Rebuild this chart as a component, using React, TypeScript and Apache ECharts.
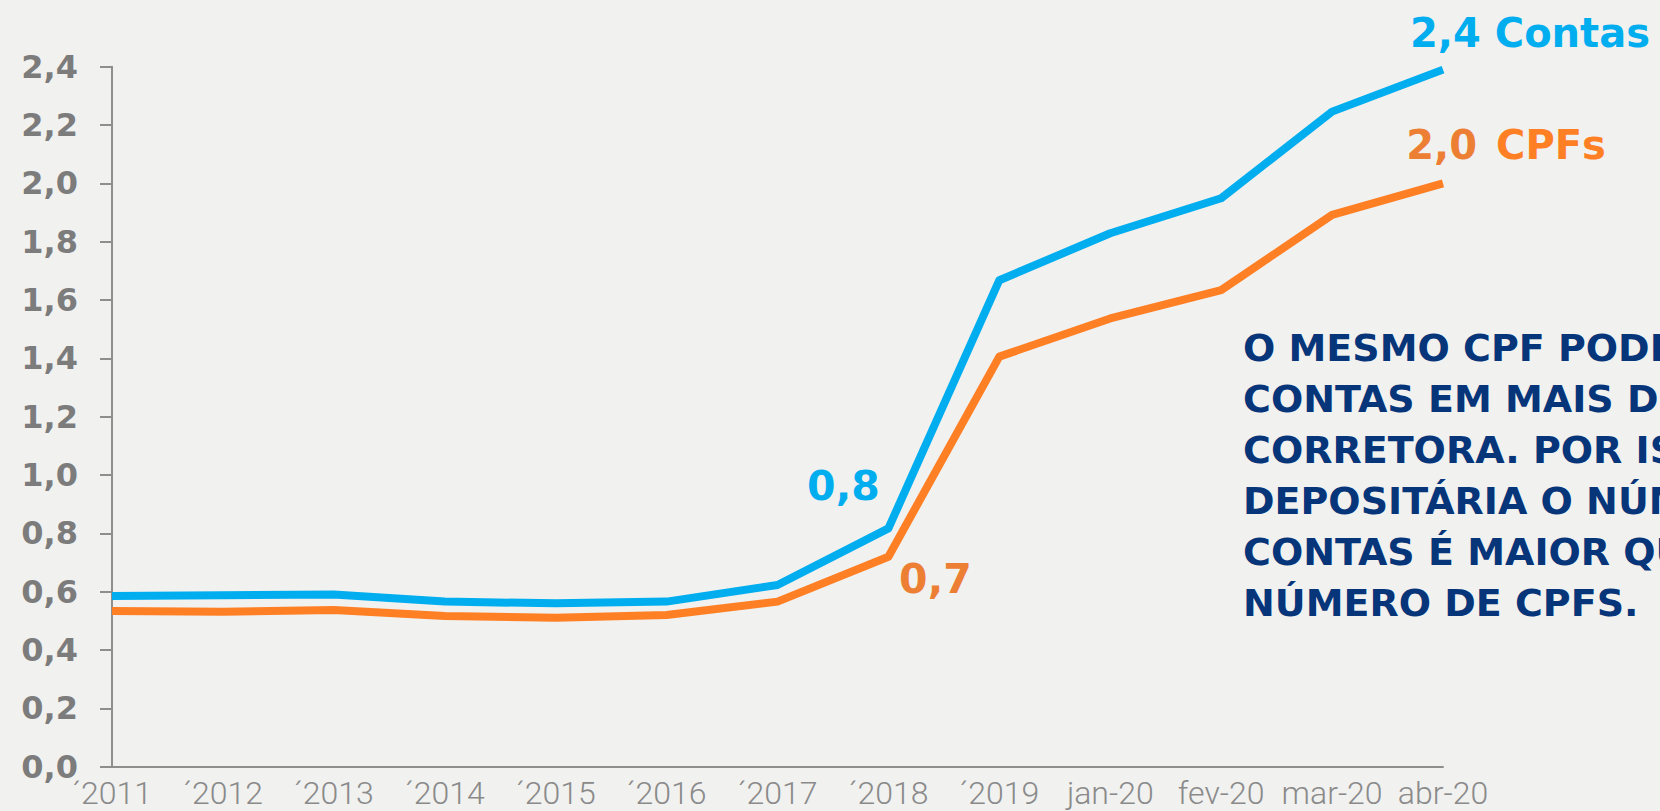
import React, { useEffect, useRef } from "react";
import * as echarts from "echarts";

const categories = ["´2011", "´2012", "´2013", "´2014", "´2015", "´2016", "´2017", "´2018", "´2019", "jan-20", "fev-20", "mar-20", "abr-20"];
const contas = [0.585, 0.588, 0.59, 0.566, 0.56, 0.566, 0.623, 0.817, 1.668, 1.829, 1.949, 2.246, 2.39];
const cpfs = [0.534, 0.531, 0.537, 0.517, 0.511, 0.52, 0.566, 0.72, 1.406, 1.537, 1.634, 1.892, 2.0];
const yMin = 0;
const yMax = 2.4;
const yStep = 0.2;
const noteLines = [
  "O MESMO CPF PODE TER",
  "CONTAS EM MAIS DE UMA",
  "CORRETORA. POR ISSO, NA",
  "DEPOSITÁRIA O NÚMERO DE",
  "CONTAS É MAIOR QUE O",
  "NÚMERO DE CPFS.",
];

const BLUE = "#00aeef";
const ORANGE = "#ff7f24";
const fmt = (v: number) => v.toFixed(1).replace(".", ",");
const BOLD = "'DejaVu Sans', sans-serif";

function buildData(values: number[], labels: Record<number, any>) {
  return values.map((v, i) =>
    labels[i] ? { value: v, label: { show: true, ...labels[i] } } : { value: v }
  );
}

export default function App() {
  const ref = useRef<HTMLDivElement>(null);
  useEffect(() => {
    if (!ref.current) return;
    const chart = echarts.init(ref.current, null, { renderer: "svg" });
    const last = categories.length - 1;
    const i2018 = categories.indexOf("´2018");
    chart.setOption({
      animation: false,
      backgroundColor: "#f1f1f0",
      grid: { left: 112, right: 217, top: 66.7, bottom: 44.3, containLabel: false },
      xAxis: {
        type: "category",
        data: categories,
        boundaryGap: false,
        axisLine: { show: true, lineStyle: { color: "#8e8e8e", width: 2 } },
        axisTick: { show: false },
        axisLabel: {
          interval: 0,
          color: "#8a8a8a",
          fontFamily: "Roboto, sans-serif",
          fontWeight: 300,
          fontSize: 32,
          margin: 10,
        },
        splitLine: { show: false },
      },
      yAxis: {
        type: "value",
        min: yMin,
        max: yMax,
        interval: yStep,
        axisLine: { show: true, lineStyle: { color: "#8e8e8e", width: 2 } },
        axisTick: { show: true, length: 12, lineStyle: { color: "#8e8e8e", width: 2 } },
        axisLabel: {
          color: "#7c7c7c",
          fontFamily: BOLD,
          fontWeight: "bold",
          fontSize: 32,
          margin: 34,
          formatter: (v: number) => fmt(v),
        },
        splitLine: { show: false },
      },
      series: [
        {
          name: "Contas",
          type: "line",
          data: buildData(contas, {
            [i2018]: {
              position: "inside",
              offset: [-45, -42],
              formatter: (p: any) => fmt(p.value),
              color: BLUE,
              fontFamily: BOLD,
              fontWeight: "bold",
              fontSize: 41,
            },
            [last]: {
              position: "inside",
              offset: [87, -37],
              formatter: (p: any) => fmt(p.value) + " Contas",
              color: BLUE,
              fontFamily: BOLD,
              fontWeight: "bold",
              fontSize: 40,
            },
          }),
          showSymbol: true,
          symbol: "circle",
          symbolSize: 1,
          itemStyle: { color: "rgba(0,0,0,0)" },
          lineStyle: { color: BLUE, width: 8, join: "round" },
          z: 3,
        },
        {
          name: "CPFs",
          type: "line",
          data: buildData(cpfs, {
            [i2018]: {
              position: "inside",
              offset: [47, 22],
              formatter: (p: any) => fmt(p.value),
              color: "#ec7f33",
              fontFamily: BOLD,
              fontWeight: "bold",
              fontSize: 41,
            },
            [last]: {
              position: "inside",
              offset: [63, -38],
              formatter: (p: any) => "{a|" + fmt(p.value) + "}{b|CPFs}",
              rich: {
                a: { color: "#ec7f33", fontFamily: BOLD, fontWeight: "bold", fontSize: 40 },
                b: { color: ORANGE, fontFamily: BOLD, fontWeight: "bold", fontSize: 40, padding: [0, 0, 0, 19] },
              },
            },
          }),
          showSymbol: true,
          symbol: "circle",
          symbolSize: 1,
          itemStyle: { color: "rgba(0,0,0,0)" },
          lineStyle: { color: ORANGE, width: 8, join: "round" },
          z: 2,
        },
      ],
      graphic: [
        {
          type: "text",
          left: 1243,
          top: 322,
          style: {
            text: noteLines.join("\n"),
            fill: "#07357a",
            font: "bold 38px 'DejaVu Sans', sans-serif",
            lineHeight: 51,
          },
        },
      ],
    });
    return () => chart.dispose();
  }, []);
  return (
    <div
      ref={ref}
      style={{ position: "fixed", left: 0, top: 0, width: 1660, height: 811 }}
    />
  );
}
